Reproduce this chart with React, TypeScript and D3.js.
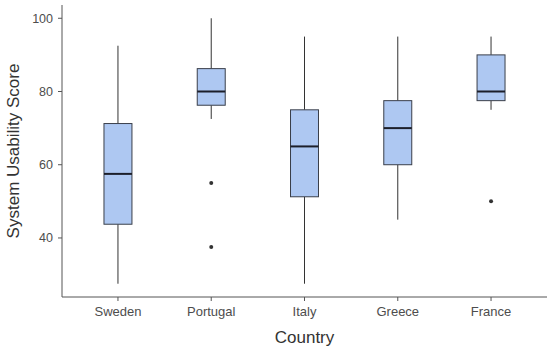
import React from 'react';
import * as d3 from 'd3';

const countries = ['Sweden', 'Portugal', 'Italy', 'Greece', 'France'];
const whiskerLow = [27.5, 72.5, 27.5, 45, 75];
const q1 = [43.75, 76.25, 51.25, 60, 77.5];
const median = [57.5, 80, 65, 70, 80];
const q3 = [71.25, 86.25, 75, 77.5, 90];
const whiskerHigh = [92.5, 100, 95, 95, 95];
const outliers = [[], [55, 37.5], [], [], [50]];
const yTicks = [40, 60, 80, 100];

const W = 550;
const H = 349;
const margin = { top: 5, right: 3, bottom: 52, left: 62 };

const App: React.FC = () => {
  const width = W - margin.left - margin.right;
  const height = H - margin.top - margin.bottom;

  // ggplot-like expansion on both scales
  const lo = d3.min(whiskerLow.concat(outliers.flat())) as number;
  const hi = d3.max(whiskerHigh) as number;
  const pad = (hi - lo) * 0.05;
  const y = d3.scaleLinear().domain([lo - pad, hi + pad]).range([height, 0]);

  const step = width / (countries.length - 1 + 1.2);
  const x = d3
    .scalePoint<string>()
    .domain(countries)
    .range([step * 0.6, width - step * 0.6]);
  const boxW = step * 0.3;

  const font = 'Liberation Sans, Arial, sans-serif';

  return (
    <svg width={W} height={H} style={{ position: 'absolute', left: 0, top: 0 }}>
      <rect width={W} height={H} fill="#fff" />
      <g transform={`translate(${margin.left},${margin.top})`}>
        {countries.map((c, i) => {
          const cx = x(c) as number;
          return (
            <g key={c}>
              <line x1={cx} x2={cx} y1={y(whiskerHigh[i])} y2={y(q3[i])} stroke="#333" strokeWidth={1} />
              <line x1={cx} x2={cx} y1={y(q1[i])} y2={y(whiskerLow[i])} stroke="#333" strokeWidth={1} />
              <rect
                x={cx - boxW / 2}
                y={y(q3[i])}
                width={boxW}
                height={y(q1[i]) - y(q3[i])}
                fill="#aec8f2"
                stroke="#3a3f4a"
                strokeWidth={1}
              />
              <line x1={cx - boxW / 2} x2={cx + boxW / 2} y1={y(median[i])} y2={y(median[i])} stroke="#1c1f2a" strokeWidth={2} />
              {outliers[i].map((o, j) => (
                <circle key={j} cx={cx} cy={y(o)} r={2} fill="#333" />
              ))}
            </g>
          );
        })}

        {/* axes */}
        <line x1={0} x2={0} y1={0} y2={height} stroke="#555" strokeWidth={1} />
        <line x1={0} x2={width} y1={height} y2={height} stroke="#555" strokeWidth={1} />
        {yTicks.map((t) => (
          <g key={t} transform={`translate(0,${y(t)})`}>
            <line x1={-4} x2={0} stroke="#555" />
            <text x={-9} dy="0.35em" textAnchor="end" fontSize={12.5} fill="#4d4d4d" fontFamily={font}>
              {t}
            </text>
          </g>
        ))}
        {countries.map((c) => (
          <g key={c} transform={`translate(${x(c)},${height})`}>
            <line y1={0} y2={4} stroke="#555" />
            <text y={19} textAnchor="middle" fontSize={13} fill="#4d4d4d" fontFamily={font}>
              {c}
            </text>
          </g>
        ))}
        <text x={width / 2} y={height + 46} textAnchor="middle" fontSize={17} fill="#333" fontFamily={font}>
          Country
        </text>
        <text
          transform={`translate(${-43},${height / 2}) rotate(-90)`}
          textAnchor="middle"
          fontSize={17}
          fill="#333"
          fontFamily={font}
        >
          System Usability Score
        </text>
      </g>
    </svg>
  );
};

export default App;
